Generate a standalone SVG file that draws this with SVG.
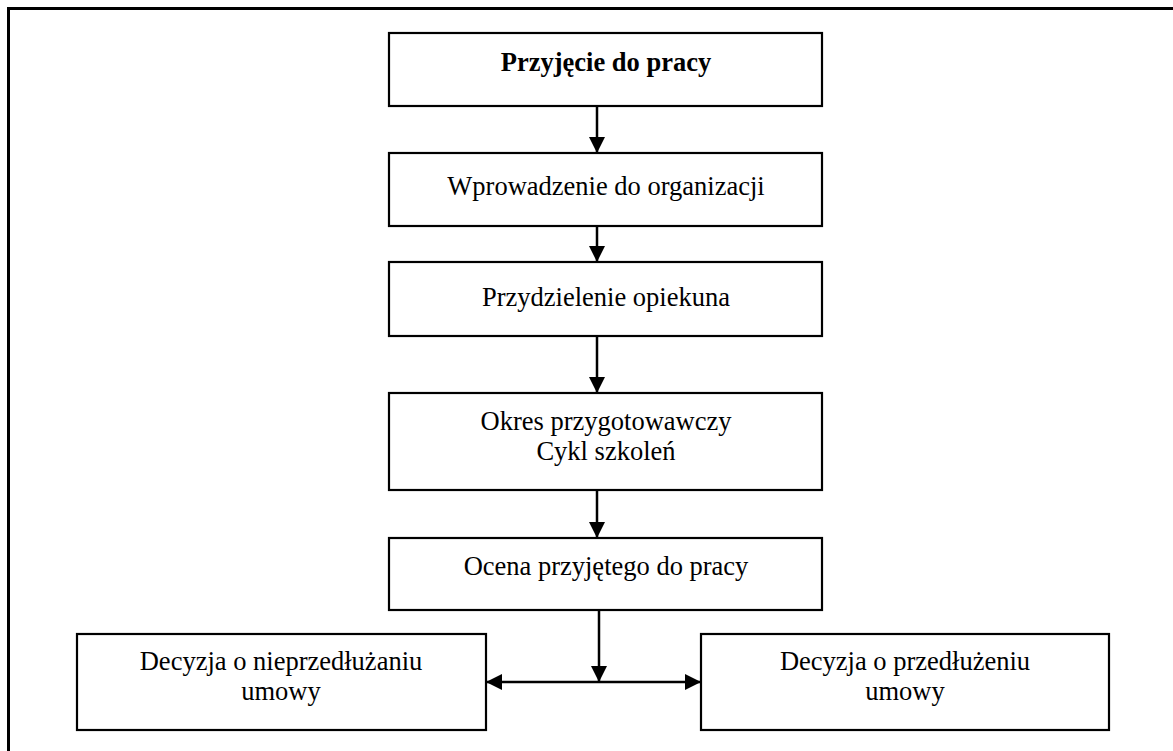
<svg xmlns="http://www.w3.org/2000/svg" width="1173" height="751" viewBox="0 0 1173 751">
  <style>
    .box { fill: #ffffff; stroke: #000000; stroke-width: 2.2; }
    .frame { fill: none; stroke: #000000; stroke-width: 3; }
    .lbl { font-family: "Liberation Serif", "Times New Roman", serif; font-size: 26.5px; fill: #000000; text-anchor: middle; }
    .bold { font-weight: bold; }
    .wire { fill: none; stroke: #000000; stroke-width: 2.5; }
  </style>
  <defs>
    <marker id="head" viewBox="0 0 16 16" refX="16" refY="8" markerWidth="16" markerHeight="16" markerUnits="userSpaceOnUse" orient="auto">
      <path d="M0,0 L16,8 L0,16 Z" fill="#000000"/>
    </marker>
  </defs>
  <rect width="1173" height="751" fill="#ffffff"/>
  <!-- page frame, running off the right and bottom edges -->
  <rect class="frame" x="8.5" y="8.5" width="1200" height="800"/>

  <g id="connectors">
    <line class="wire" x1="597" y1="106" x2="597" y2="153" marker-end="url(#head)"/>
    <line class="wire" x1="597" y1="226" x2="597" y2="262" marker-end="url(#head)"/>
    <line class="wire" x1="597" y1="336" x2="597" y2="393" marker-end="url(#head)"/>
    <line class="wire" x1="597" y1="490" x2="597" y2="538" marker-end="url(#head)"/>
    <line class="wire" x1="599" y1="610" x2="599" y2="682" marker-end="url(#head)"/>
    <line class="wire" x1="599" y1="682" x2="486" y2="682" marker-end="url(#head)"/>
    <line class="wire" x1="599" y1="682" x2="701" y2="682" marker-end="url(#head)"/>
  </g>

  <g id="n1">
    <rect class="box" x="389" y="33" width="433" height="73"/>
    <text class="lbl bold" x="606" y="71">Przyjęcie do pracy</text>
  </g>
  <g id="n2">
    <rect class="box" x="389" y="153" width="433" height="73"/>
    <text class="lbl" x="606" y="195">Wprowadzenie do organizacji</text>
  </g>
  <g id="n3">
    <rect class="box" x="389" y="262" width="433" height="74"/>
    <text class="lbl" x="606" y="306">Przydzielenie opiekuna</text>
  </g>
  <g id="n4">
    <rect class="box" x="389" y="393" width="433" height="97"/>
    <text class="lbl" x="606" y="430">Okres przygotowawczy</text>
    <text class="lbl" x="606" y="460">Cykl szkoleń</text>
  </g>
  <g id="n5">
    <rect class="box" x="389" y="538" width="433" height="72"/>
    <text class="lbl" x="606" y="575">Ocena przyjętego do pracy</text>
  </g>
  <g id="n6">
    <rect class="box" x="77" y="634" width="409" height="96"/>
    <text class="lbl" x="281" y="670">Decyzja o nieprzedłużaniu</text>
    <text class="lbl" x="281" y="700">umowy</text>
  </g>
  <g id="n7">
    <rect class="box" x="701" y="634" width="408" height="96"/>
    <text class="lbl" x="905" y="670">Decyzja o przedłużeniu</text>
    <text class="lbl" x="905" y="700">umowy</text>
  </g>
</svg>
